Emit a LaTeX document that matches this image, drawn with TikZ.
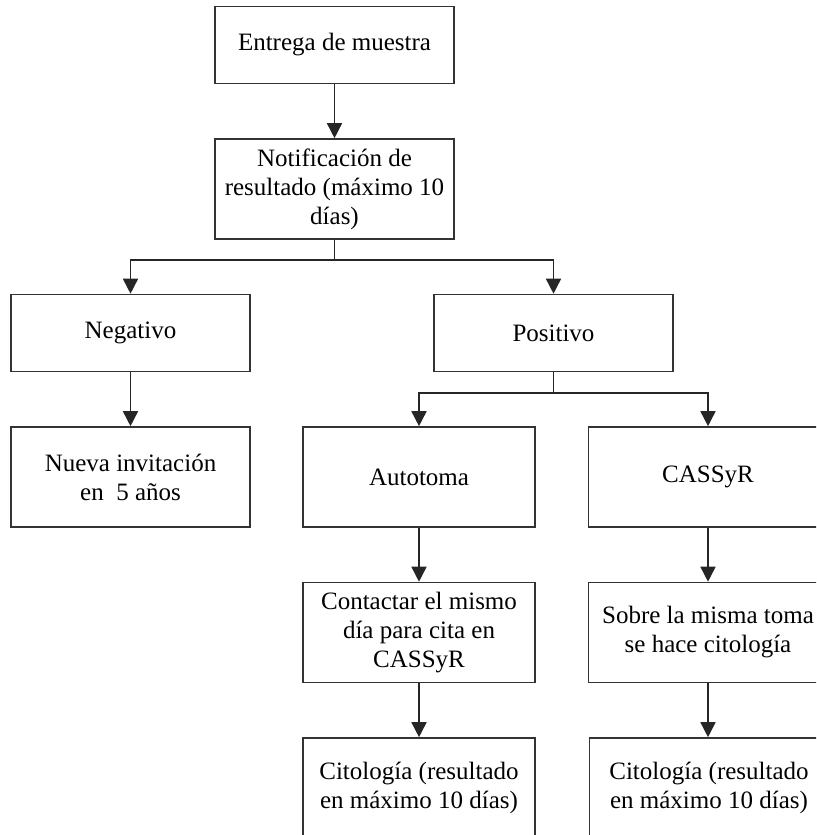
\documentclass[tikz,border=0pt]{standalone}
\usepackage{fontspec}
\setmainfont{Liberation Serif}
\usetikzlibrary{arrows.meta}
\begin{document}
\begin{tikzpicture}[x=0.5pt, y=-0.5pt, >={Triangle[length=7.5pt,width=7.5pt]},
	box/.style={draw=black!80, line width=0.8pt, align=center, inner sep=0pt,
		minimum width=119.5pt, minimum height=50pt,
		font=\fontsize{12.5}{14.5}\selectfont},
	lowbox/.style={box, minimum height=38.5pt},
	midbox/.style={box, minimum width=116pt},
	line/.style={draw=black!85, line width=0.8pt}]
	\useasboundingbox (0,0) rectangle (816,835);
	\clip (0,0) rectangle (816,835);

	\node[lowbox] (entrega) at (334.5,45) {Entrega de muestra};
	\node[box] (notif) at (334.5,189) {Notificación de\\resultado (máximo 10\\días)};
	\node[lowbox] (neg) at (130.5,333) {Negativo};
	\node[lowbox] (pos) at (553.5,333) {Positivo};
	\node[box] (nueva) at (130.5,477) {Nueva invitación\\en\ \ 5 años};
	\node[midbox] (auto) at (419,477) {Autotoma};
	\node[box] (cass) at (708,477) {CASSyR};
	\node[midbox] (contacto) at (419,632.5) {Contactar el mismo\\día para cita en\\CASSyR};
	\node[box] (sobre) at (708,632.5) {Sobre la misma toma\\se hace citología};
	\node[midbox] (cito1) at (419,788) {Citología (resultado\\en máximo 10 días)};
	\node[box] (cito2) at (709,788) {Citología (resultado\\en máximo 10 días)};

	\coordinate (f1) at (334.5,260);
	\coordinate (f2) at (553.5,393);

	\draw[line,->] (entrega) -- (notif);
	\draw[line] (notif) -- (f1);
	\draw[line,->] (f1) -| (neg);
	\draw[line,->] (f1) -| (pos);
	\draw[line,->] (neg) -- (nueva);
	\draw[line] (pos) -- (f2);
	\draw[line,->] (f2) -| (auto);
	\draw[line,->] (f2) -| (cass);
	\draw[line,->] (auto) -- (contacto);
	\draw[line,->] (contacto) -- (cito1);
	\draw[line,->] (cass) -- (sobre);
	\draw[line,->] (sobre.south) -- (sobre.south |- cito2.north);
\end{tikzpicture}
\end{document}
